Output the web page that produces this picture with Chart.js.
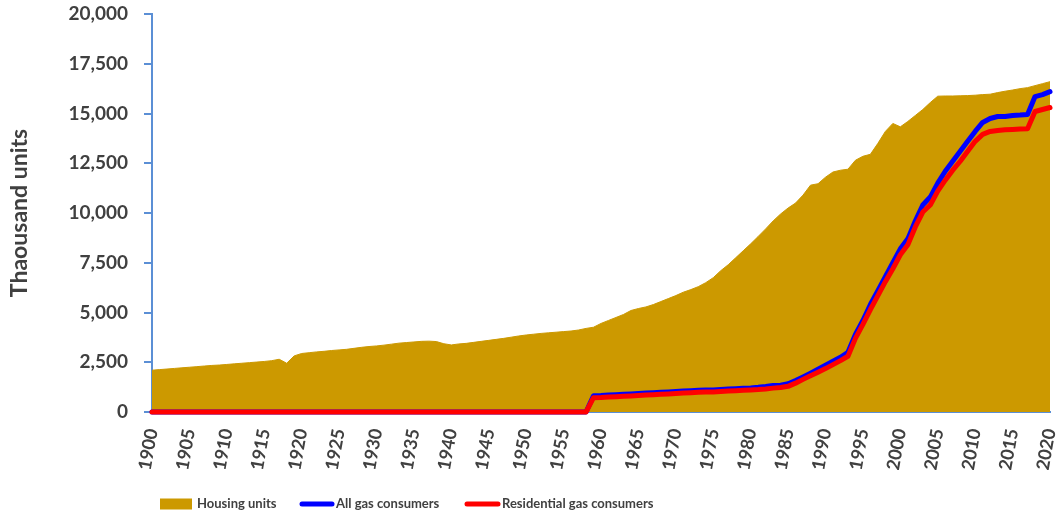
<!DOCTYPE html>
<html>
<head>
<meta charset="utf-8">
<script src="https://cdn.jsdelivr.net/npm/chart.js@4.4.1/dist/chart.umd.min.js"></script>
<style>
  html, body { margin: 0; padding: 0; background: #ffffff; }
  #wrap { width: 1057px; height: 518px; position: relative; }
</style>
</head>
<body>
<div id="wrap"><canvas id="c" width="1057" height="518"></canvas></div>
<script>
// ---- Data (thousand units) ----
const years = [];
for (let y = 1900; y <= 2020; y++) years.push(String(y));

const housingUnits = [
  2100, 2130, 2160, 2190, 2220, 2250, 2280, 2310, 2340, 2360,   // 1900-1909
  2390, 2420, 2450, 2480, 2510, 2540, 2580, 2650, 2450, 2820,   // 1910-1919
  2940, 2980, 3020, 3050, 3090, 3120, 3150, 3200, 3250, 3290,   // 1920-1929
  3320, 3360, 3410, 3460, 3490, 3520, 3550, 3560, 3540, 3430,   // 1930-1939
  3370, 3420, 3450, 3500, 3550, 3600, 3650, 3700, 3760, 3820,   // 1940-1949
  3870, 3910, 3950, 3980, 4010, 4040, 4070, 4120, 4200, 4260,   // 1950-1959
  4450, 4600, 4750, 4900, 5100, 5200, 5280, 5400, 5550, 5700,   // 1960-1969
  5850, 6020, 6150, 6300, 6500, 6750, 7100, 7400, 7750, 8100,   // 1970-1979
  8450, 8820, 9200, 9600, 9950, 10250, 10500, 10900, 11400, 11470, // 1980-1989
  11800, 12060, 12150, 12200, 12650, 12850, 12950, 13500, 14100, 14500, // 1990-1999
  14330, 14600, 14900, 15200, 15550, 15870, 15880, 15880, 15890, 15900, // 2000-2009
  15920, 15950, 15970, 16050, 16120, 16180, 16250, 16300, 16400, 16500, // 2010-2019
  16600                                                          // 2020
];

const zeros1900to1958 = [
  0,0,0,0,0,0,0,0,0,0, 0,0,0,0,0,0,0,0,0,0, 0,0,0,0,0,0,0,0,0,0,
  0,0,0,0,0,0,0,0,0,0, 0,0,0,0,0,0,0,0,0,0, 0,0,0,0,0,0,0,0,0
];

const allGasConsumers = zeros1900to1958.concat([
  820,                                                           // 1959
  830, 850, 870, 890, 910, 930, 950, 970, 990, 1010,             // 1960-1969
  1030, 1050, 1070, 1090, 1100, 1110, 1130, 1150, 1170, 1190,    // 1970-1979
  1210, 1240, 1280, 1330, 1350, 1420, 1580, 1760, 1950, 2150,    // 1980-1989
  2350, 2550, 2750, 3000, 3900, 4600, 5400, 6100, 6800, 7500,    // 1990-1999
  8200, 8700, 9600, 10400, 10800, 11500, 12100, 12600, 13100, 13600, // 2000-2009
  14100, 14550, 14750, 14850, 14850, 14900, 14920, 14950, 15850, 15950, // 2010-2019
  16100                                                          // 2020
]);

const residentialGasConsumers = zeros1900to1958.concat([
  720,                                                           // 1959
  730, 750, 770, 790, 810, 830, 850, 870, 890, 910,              // 1960-1969
  930, 950, 970, 990, 1000, 1010, 1030, 1050, 1070, 1090,        // 1970-1979
  1110, 1130, 1160, 1200, 1230, 1290, 1450, 1640, 1820, 2000,    // 1980-1989
  2180, 2380, 2580, 2800, 3700, 4400, 5150, 5850, 6550, 7200,    // 1990-1999
  7900, 8400, 9300, 10050, 10400, 11100, 11650, 12150, 12600, 13100, // 2000-2009
  13600, 13950, 14100, 14150, 14180, 14200, 14220, 14230, 15100, 15200, // 2010-2019
  15300                                                          // 2020
]);

const seriesNames = ['Housing units', 'All gas consumers', 'Residential gas consumers'];
const seriesColors = ['#CC9900', '#0000FF', '#FF0000'];
const yTitle = 'Thaousand units';

const FONT = 'Lato, "Liberation Sans", sans-serif';
const TEXT = '#404040';
const AXIS = '#5B8FD5';

// custom legend drawn at bottom
const bottomLegend = {
  id: 'bottomLegend',
  afterDraw(chart) {
    const ctx = chart.ctx;
    ctx.save();
    ctx.font = 'bold 13px ' + FONT;
    ctx.textBaseline = 'middle';
    const cy = 504;
    const items = [
      { sx: 160, w: 32, h: 11, tx: 197 },
      { sx: 300, w: 34, h: 5, tx: 336 },
      { sx: 465, w: 35, h: 5, tx: 502 }
    ];
    items.forEach((it, i) => {
      ctx.fillStyle = seriesColors[i];
      if (i === 0) {
        ctx.fillRect(it.sx, cy - it.h / 2, it.w, it.h);
      } else {
        ctx.lineWidth = it.h;
        ctx.lineCap = 'round';
        ctx.strokeStyle = seriesColors[i];
        ctx.beginPath();
        ctx.moveTo(it.sx + 2, cy);
        ctx.lineTo(it.sx + it.w - 2, cy);
        ctx.stroke();
      }
      ctx.fillStyle = TEXT;
      ctx.textAlign = 'left';
      ctx.fillText(seriesNames[i], it.tx, cy);
    });
    ctx.restore();
  }
};

new Chart(document.getElementById('c'), {
  type: 'line',
  data: {
    labels: years,
    datasets: [
      {
        label: seriesNames[0],
        data: housingUnits,
        backgroundColor: seriesColors[0],
        borderColor: seriesColors[0],
        borderWidth: 1,
        fill: 'origin',
        pointRadius: 0,
        tension: 0,
        order: 3
      },
      {
        label: seriesNames[1],
        data: allGasConsumers,
        borderColor: seriesColors[1],
        backgroundColor: seriesColors[1],
        borderWidth: 5,
        fill: false,
        clip: false,
        pointRadius: 0,
        tension: 0,
        borderJoinStyle: 'round',
        borderCapStyle: 'round',
        order: 2
      },
      {
        label: seriesNames[2],
        data: residentialGasConsumers,
        borderColor: seriesColors[2],
        backgroundColor: seriesColors[2],
        borderWidth: 5,
        fill: false,
        clip: false,
        pointRadius: 0,
        tension: 0,
        borderJoinStyle: 'round',
        borderCapStyle: 'round',
        order: 1
      }
    ]
  },
  options: {
    responsive: false,
    animation: false,
    devicePixelRatio: 1,
    layout: { padding: { top: 14, right: 7, bottom: 48, left: 6 } },
    plugins: {
      legend: { display: false },
      tooltip: { enabled: false }
    },
    scales: {
      x: {
        type: 'category',
        offset: false,
        grid: { display: true, drawOnChartArea: false, drawTicks: false },
        border: { display: true, color: AXIS, width: 2 },
        ticks: {
          autoSkip: false,
          minRotation: 80,
          maxRotation: 80,
          padding: 15,
          color: TEXT,
          font: { family: FONT, size: 18, weight: 'bold' },
          callback: function (value, index) {
            const lab = this.getLabelForValue(value);
            return (Number(lab) % 5 === 0) ? lab : '';
          }
        },
        afterFit(scale) {
          scale.height = 58;
          scale.paddingLeft = 0;
          scale.paddingRight = 0;
        }
      },
      y: {
        min: 0,
        max: 20000,
        grid: { display: true, drawOnChartArea: false, drawTicks: true, tickLength: 8, color: AXIS, lineWidth: 2 },
        border: { display: true, color: AXIS, width: 2 },
        ticks: {
          stepSize: 2500,
          padding: 16,
          color: TEXT,
          font: { family: FONT, size: 19, weight: 'bold' },
          callback: (v) => v.toLocaleString('en-US')
        },
        title: {
          display: true,
          text: yTitle,
          color: TEXT,
          font: { family: FONT, size: 23, weight: 'bold' },
          padding: { top: 0, bottom: 0 }
        },
        afterFit(scale) {
          scale.width = 146;
          scale.paddingTop = 0;
          scale.paddingBottom = 0;
        }
      }
    }
  },
  plugins: [bottomLegend]
});
</script>
</body>
</html>
